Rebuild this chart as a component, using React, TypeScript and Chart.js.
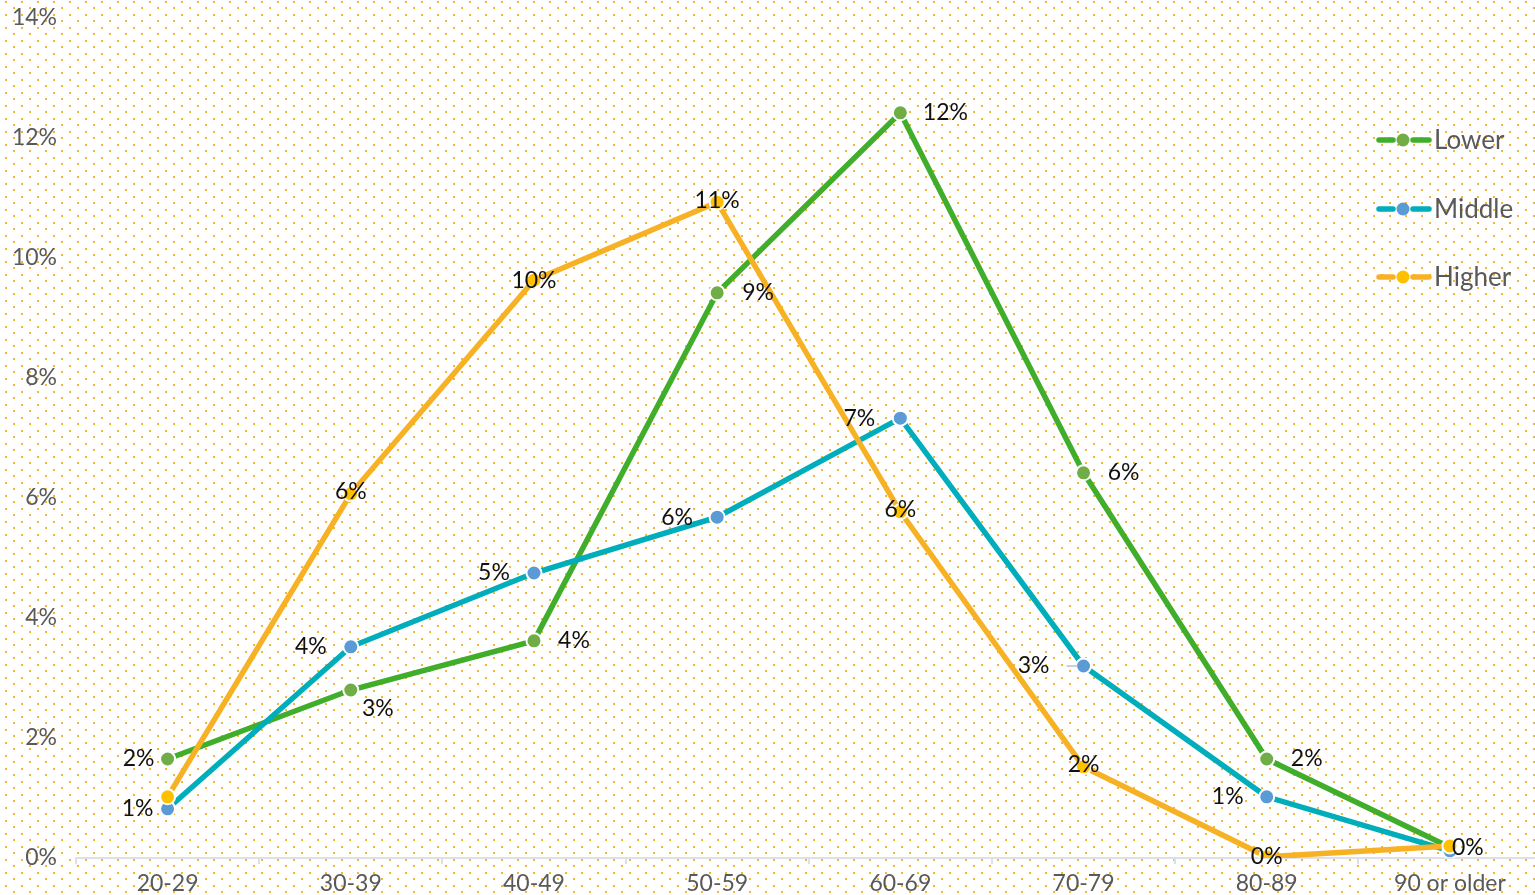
import React, { useEffect, useRef } from 'react';
import { Chart, registerables } from 'chart.js';

Chart.register(...registerables);

// ---- data ----
const categories = ['20-29', '30-39', '40-49', '50-59', '60-69', '70-79', '80-89', '90 or older'];
const seriesNames = ['Lower', 'Middle', 'Higher'];
const lowerValues = [1.65, 2.8, 3.62, 9.42, 12.42, 6.42, 1.65, 0.18];
const middleValues = [0.82, 3.52, 4.75, 5.68, 7.33, 3.2, 1.02, 0.12];
const higherValues = [1.02, 6.07, 9.63, 10.93, 5.77, 1.52, 0.02, 0.2];
const yMin = 0;
const yMax = 14;
const yStep = 2;

// ---- label placement (style, not data) ----
const lowerLabelPlacement: (number[] | null)[] = [[-29, 0], [27, 19], [40, 0], [41, 0], [45, 0], [40, 0], [40, 0], [18, 0]];
const middleLabelPlacement: (number[] | null)[] = [[-30, 0], [-40, 0], [-40, 0], [-40, 0], [-41, 0], [-50, 0, 1], [-39, 0], null];
const higherLabelPlacement: (number[] | null)[] = [null, [0, -2], [0, 0], [0, -2], [0, -2], [0, -2], [0, 0], null];

const FONT = 'Lato, "Open Sans", sans-serif';

const lineColors = ['#40ad2b', '#00adbb', '#f7b125'];
const pointColors = ['#70ad47', '#5b9bd5', '#ffc000'];

function makePattern(ctx: CanvasRenderingContext2D) {
  const tile = document.createElement('canvas');
  tile.width = 16;
  tile.height = 13;
  const t = tile.getContext('2d')!;
  t.fillStyle = '#ffffff';
  t.fillRect(0, 0, 16, 13);
  t.fillStyle = '#f7b535';
  t.fillRect(5, 1, 2, 2);
  t.fillRect(13, 7, 2, 2);
  return ctx.createPattern(tile, 'repeat');
}

const backgroundPlugin = {
  id: 'dotBackground',
  beforeDraw(chart: any) {
    const ctx = chart.ctx as CanvasRenderingContext2D;
    ctx.save();
    const pat = makePattern(ctx);
    ctx.fillStyle = pat || '#fff';
    ctx.fillRect(0, 0, chart.width, chart.height);
    ctx.restore();
  },
};

const pointLabelPlugin = {
  id: 'pointLabels',
  afterDatasetsDraw(chart: any) {
    const ctx = chart.ctx as CanvasRenderingContext2D;
    ctx.save();
    ctx.font = `23px ${FONT}`;
    ctx.textAlign = 'center';
    ctx.textBaseline = 'middle';
    chart.data.datasets.forEach((ds: any, i: number) => {
      const meta = chart.getDatasetMeta(i);
      const placement = ds.labelPlacement as (number[] | null)[];
      meta.data.forEach((pt: any, j: number) => {
        const o = placement[j];
        if (!o) return;
        const v = ds.data[j] as number;
        const x = pt.x + o[0];
        const y = pt.y + o[1];
        if (o[2]) {
          ctx.strokeStyle = '#b8c0cc';
          ctx.lineWidth = 1.5;
          ctx.beginPath();
          ctx.moveTo(pt.x - 17, pt.y);
          ctx.lineTo(pt.x - 6, pt.y);
          ctx.stroke();
        }
        ctx.fillStyle = '#111111';
        ctx.fillText(Math.round(v) + '%', x, y);
      });
    });
    ctx.restore();
  },
};

const legendPlugin = {
  id: 'sideLegend',
  afterDraw(chart: any) {
    const ctx = chart.ctx as CanvasRenderingContext2D;
    const x0 = 1376;
    const rows = [140, 209, 277];
    ctx.save();
    ctx.font = `26px ${FONT}`;
    ctx.textAlign = 'left';
    ctx.textBaseline = 'middle';
    chart.data.datasets.forEach((ds: any, i: number) => {
      const y = rows[i];
      ctx.strokeStyle = ds.borderColor;
      ctx.lineWidth = 5.5;
      ctx.lineCap = 'round';
      ctx.beginPath();
      ctx.moveTo(x0 + 3, y);
      ctx.lineTo(x0 + 17, y);
      ctx.moveTo(x0 + 37, y);
      ctx.lineTo(x0 + 53, y);
      ctx.stroke();
      ctx.fillStyle = ds.pointBackgroundColor;
      ctx.beginPath();
      ctx.arc(x0 + 27, y, 6.5, 0, Math.PI * 2);
      ctx.fill();
      ctx.fillStyle = '#595959';
      ctx.fillText(ds.label, x0 + 58, y + 1);
    });
    ctx.restore();
  },
};

export default function App() {
  const canvasRef = useRef<HTMLCanvasElement>(null);

  useEffect(() => {
    const canvas = canvasRef.current;
    if (!canvas) return;
    const valueSets = [lowerValues, middleValues, higherValues];
    const placements = [lowerLabelPlacement, middleLabelPlacement, higherLabelPlacement];
    const drawOrder = [2, 1, 0];
    const chart = new Chart(canvas, {
      type: 'line',
      data: {
        labels: categories,
        datasets: seriesNames.map((name, i) => ({
          label: name,
          data: valueSets[i],
          borderColor: lineColors[i],
          backgroundColor: lineColors[i],
          borderWidth: 5.5,
          pointBackgroundColor: pointColors[i],
          pointBorderColor: '#ffffff',
          pointBorderWidth: 2,
          pointRadius: 7.5,
          pointHoverRadius: 7.5,
          tension: 0,
          fill: false,
          order: drawOrder[i],
          labelPlacement: placements[i],
        })) as any,
      },
      options: {
        animation: false,
        responsive: true,
        maintainAspectRatio: false,
        layout: { padding: { top: 18, left: 0, right: 0, bottom: 0 } },
        plugins: {
          legend: { display: false },
          tooltip: { enabled: false },
        },
        scales: {
          x: {
            offset: true,
            grid: {
              display: true,
              offset: true,
              drawOnChartArea: false,
              drawTicks: true,
              tickLength: 6,
              color: '#dde0e7',
              lineWidth: 2,
            },
            border: { display: true, color: '#dde0e7', width: 2 },
            ticks: {
              color: '#595959',
              font: { family: FONT, size: 23 },
              padding: 6,
              maxRotation: 0,
              autoSkip: false,
            },
            afterFit(scale: any) {
              scale.height = 37;
              scale.paddingLeft = 0;
              scale.paddingRight = 0;
            },
          },
          y: {
            min: yMin,
            max: yMax,
            grid: { display: false, drawTicks: false },
            border: { display: false },
            ticks: {
              stepSize: yStep,
              color: '#595959',
              font: { family: FONT, size: 23 },
              padding: 19,
              callback: (v: any) => v + '%',
            },
            afterFit(scale: any) {
              scale.width = 76;
              scale.paddingTop = 0;
              scale.paddingBottom = 0;
            },
          },
        },
      },
      plugins: [backgroundPlugin, pointLabelPlugin, legendPlugin],
    });
    return () => chart.destroy();
  }, []);

  return (
    <div style={{ position: 'fixed', left: 0, top: 0, width: 1535, height: 895, overflow: 'hidden', background: '#fff' }}>
      <div style={{ position: 'relative', width: 1551, height: 895 }}>
        <canvas ref={canvasRef} />
      </div>
    </div>
  );
}
